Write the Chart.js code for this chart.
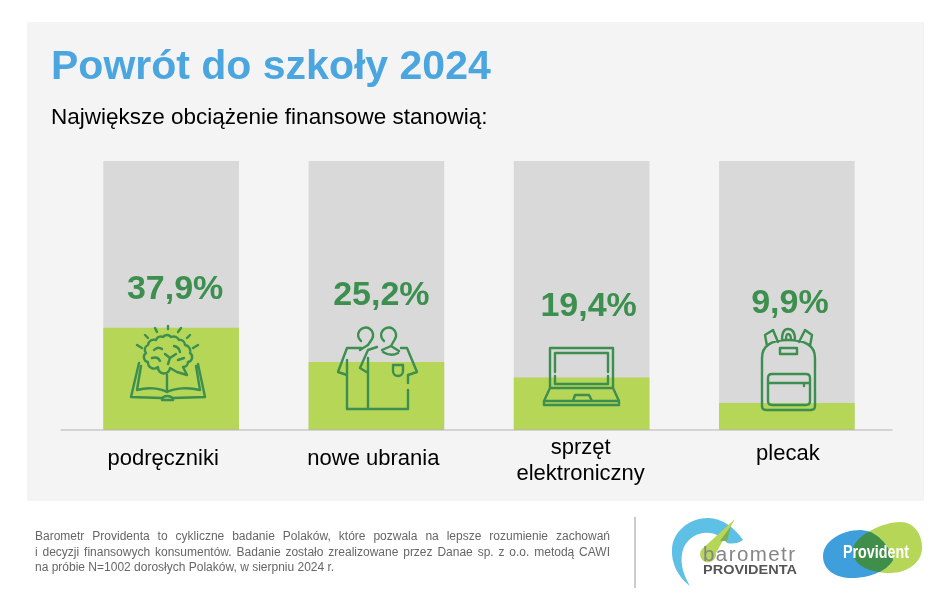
<!DOCTYPE html>
<html lang="pl">
<head>
<meta charset="utf-8">
<title>Powrót do szkoły 2024</title>
<script src="https://cdn.jsdelivr.net/npm/chart.js@4"></script>
<style>
  html, body { margin: 0; padding: 0; background: #fff; }
  body { position: relative; width: 948px; height: 608px; overflow: hidden; font-family: "Liberation Sans", Arial, sans-serif; }
  #panel { position: absolute; left: 27px; top: 22px; width: 897px; height: 479px; background: #f4f4f4; }
  #chart { position: absolute; left: 0; top: 0; }
  #title { position: absolute; left: 51px; top: 41px; font-size: 41px; line-height: 48px; font-weight: bold; color: #4ba6e0; white-space: nowrap; }
  #subtitle { position: absolute; left: 51px; top: 103px; font-size: 22.5px; line-height: 28px; color: #000; white-space: nowrap; }
  #note { position: absolute; left: 35px; top: 529px; width: 575px; font-size: 12px; line-height: 15.5px; color: #666; }
  #note div { text-align: justify; text-align-last: justify; white-space: nowrap; }
  #note div:last-child { text-align-last: left; }
  #logos { position: absolute; left: 0; top: 0; }
</style>
</head>
<body>
<div id="panel"></div>
<canvas id="chart" width="948" height="608"></canvas>
<div id="title">Powrót do szkoły 2024</div>
<div id="subtitle">Największe obciążenie finansowe stanowią:</div>
<div id="note">
  <div>Barometr Providenta to cykliczne badanie Polaków, które pozwala na lepsze rozumienie zachowań</div>
  <div>i decyzji finansowych konsumentów. Badanie zostało zrealizowane przez Danae sp. z o.o. metodą CAWI</div>
  <div>na próbie N=1002 dorosłych Polaków, w sierpniu 2024 r.</div>
</div>
<svg id="logos" width="948" height="608" xmlns="http://www.w3.org/2000/svg">
  <defs>
    <clipPath id="blueClip"><path d="M823 556 C823 541 842 530 860 530 C876 530 889 545 893 560 C886 572 868 578 852 578 C835 578 823 570 823 556 Z"/></clipPath>
  </defs>
  <line x1="635" y1="517" x2="635" y2="588" stroke="#a8a8a8" stroke-width="1.2"/>
  <path d="M690 586 C678 577 671 563 672 549 C673 531 690 518 708 518 C722 518 735 528 743 540 Q736 545 727 543 C714 527 692 531 684 547 C679 559 682 573 690 586 Z" fill="#5fc0e6"/>
  <path d="M735 519 L716 553 A8 8 0 1 1 702 549 Z" fill="#b5d657"/>
  <path d="M731 526 L720 541 L727 541 Z" fill="#7fae4e"/>
  <text x="703" y="561" font-size="20.5" fill="#858585" textLength="92">barometr</text>
  <text x="703" y="574" font-size="12.5" font-weight="bold" fill="#555" textLength="94" lengthAdjust="spacingAndGlyphs">PROVIDENTA</text>
  <path d="M853 548 C858 533 885 522 900 522 C915 522 922 535 922 548 C922 562 908 573 890 573 C872 573 850 566 853 548 Z" fill="#b5d657"/>
  <path d="M823 556 C823 541 842 530 860 530 C876 530 889 545 893 560 C886 572 868 578 852 578 C835 578 823 570 823 556 Z" fill="#3f9fdc"/>
  <path d="M853 548 C858 533 885 522 900 522 C915 522 922 535 922 548 C922 562 908 573 890 573 C872 573 850 566 853 548 Z" fill="#3f8f4a" clip-path="url(#blueClip)"/>
  <text x="843" y="558" font-size="17.5" font-weight="bold" fill="#fff" textLength="66" lengthAdjust="spacingAndGlyphs">Provident</text>
</svg>
<script>
const categories = ["podręczniki", "nowe ubrania", ["sprzęt", "elektroniczny"], "plecak"];
const shares = [37.9, 25.2, 19.4, 9.9];
const fullBar = [100, 100, 100, 100];

const darkGreen = "#3c8f4e";
// how far the percent labels sit from the bar top / centre
const labelLift = [38, 67, 71, 100];
const labelShift = [4, 5, 7, 3];
// the axis labels are not quite centred under the bars in the original
const tickShiftX = [-8, -3, -1, 1];
const tickShiftY = [4, 4, 6, -1];

const iconPaths = [
  // book
  "M139 363 L131 397 L162 398 L162 400 L173 400 L173 398 L205 397 L198 364" +
  "M141 366 L137 390 C148 387 160 388 167 392 C175 388 188 387 200 390 L196 366 M167 375 L167 392 M162 398 Q167 394 173 398",
  // brain
  "M148 362 A5 5 0 0 1 146 353 A5 5 0 0 1 148 345 A6 6 0 0 1 156 340 A5 5 0 0 1 163 337 A5 5 0 0 1 171 337 " +
  "A6 6 0 0 1 179 340 A5 5 0 0 1 185 345 A6 6 0 0 1 190 353 A5 5 0 0 1 188 362 A5 5 0 0 1 183 367 L187 375 L177 372 L170 368 " +
  "A6 6 0 0 1 158 367 A6 6 0 0 1 148 362 " +
  "M154 350 Q158 346 162 349 M152 358 Q158 356 160 361 M165 354 L170 358 L176 354 M170 358 L168 364 M174 346 Q179 347 180 352 M178 360 L184 358",
  // rays
  "M155 328 L157 332 M168 326 L168 329 M181 328 L178 332 M190 335 L187 338 M198 345 L193 348 M145 335 L148 338 M137 345 L142 348",
  // hangers
  "M361 341 A7.5 7.5 0 1 1 372 339 L368 345 M384 341 A7.5 7.5 0 1 1 395 339 L391 346 L399 351 M368 345 L360 350 M391 346 L382 350",
  // shirts
  "M362 348 L347 348 L338 372 L347 375 M347 360 L347 409 L408 409 L408 390 M408 383 L408 375 L417 372 L407 348 L401 348 " +
  "M368 358 L368 409 M360 368 L368 373 M360 368 L368 350 L377 347 M383 352 Q391 357 398 353 " +
  "M393 365 L403 365 L403 371 A5 5 0 0 1 393 371 Z",
  // laptop
  "M550 388 L550 348 L613 348 L613 388 M555 372 L555 353 L608 353 L608 372 M608 376 L608 384 L555 384 L555 376 " +
  "M550 388 L613 388 L619 401 L619 405 L544 405 L544 401 Z M544 401 L619 401 M573 401 L575 395 L589 395 L592 401",
  // backpack
  "M762 358 C762 345 773 340 788 340 C804 340 815 345 815 358 L815 406 Q815 410 811 410 L766 410 Q762 410 762 406 Z " +
  "M768 378 Q768 374 772 374 L806 374 Q810 374 810 378 L810 401 Q810 405 806 405 L772 405 Q768 405 768 401 Z M768 383 L810 383 M804 383 L804 386 " +
  "M780 348 L797 348 L797 354 L780 354 Z M782 340 Q782 329 788 329 Q795 329 795 340 M786 340 Q786 334 788 334 Q791 334 791 340 " +
  "M767 346 L765 335 L773 330 L778 342 M810 346 L812 335 L805 330 L799 342"
];

// value labels above the bars
const valueLabels = {
  id: "valueLabels",
  afterDatasetsDraw(chart) {
    const ctx = chart.ctx;
    const bars = chart.getDatasetMeta(0).data;
    ctx.save();
    ctx.font = "bold 34px 'Liberation Sans', Arial, sans-serif";
    ctx.fillStyle = darkGreen;
    ctx.textAlign = "center";
    ctx.textBaseline = "middle";
    bars.forEach((bar, i) => {
      const text = shares[i].toFixed(1).replace(".", ",") + "%";
      ctx.fillText(text, bar.x + labelShift[i], bar.y - labelLift[i]);
    });
    ctx.restore();
  }
};

const icons = {
  id: "icons",
  afterDatasetsDraw(chart) {
    const ctx = chart.ctx;
    ctx.save();
    ctx.strokeStyle = darkGreen;
    ctx.lineWidth = 2.4;
    ctx.lineJoin = "round";
    ctx.lineCap = "round";
    iconPaths.forEach(d => ctx.stroke(new Path2D(d)));
    ctx.restore();
  }
};

const baseLine = {
  id: "baseLine",
  afterDatasetsDraw(chart) {
    const { ctx, chartArea } = chart;
    ctx.save();
    ctx.strokeStyle = "#b4b4b4";
    ctx.lineWidth = 1.2;
    ctx.beginPath();
    ctx.moveTo(chartArea.left - 8, chartArea.bottom);
    ctx.lineTo(chartArea.right + 3, chartArea.bottom);
    ctx.stroke();
    ctx.restore();
  }
};

const tickNudge = {
  id: "tickNudge",
  beforeDraw(chart) {
    chart.scales.x.getLabelItems().forEach((item, i) => {
      const [x, y] = item.options.translation;
      item.options.translation = [x + tickShiftX[i], y + tickShiftY[i]];
    });
  }
};

new Chart(document.getElementById("chart"), {
  type: "bar",
  data: {
    labels: categories,
    datasets: [
      { data: shares, backgroundColor: "#b5d657", barThickness: 135, grouped: false },
      { data: fullBar, backgroundColor: "#d9d9d9", barThickness: 135, grouped: false }
    ]
  },
  options: {
    responsive: false,
    animation: false,
    layout: { padding: { left: 68.5, right: 58.5, top: 161, bottom: 0 } },
    plugins: {
      legend: { display: false },
      tooltip: { enabled: false }
    },
    scales: {
      y: { display: false, min: 0, max: 100 },
      x: {
        grid: { display: false },
        border: { display: false },
        afterFit: scale => { scale.height = 178; },
        ticks: {
          color: "#000",
          padding: 4,
          autoSkip: false,
          maxRotation: 0,
          crossAlign: "center",
          font: { family: "'Liberation Sans', Arial, sans-serif", size: 22, lineHeight: 1.18 }
        }
      }
    }
  },
  plugins: [valueLabels, icons, baseLine, tickNudge]
});
</script>
</body>
</html>
